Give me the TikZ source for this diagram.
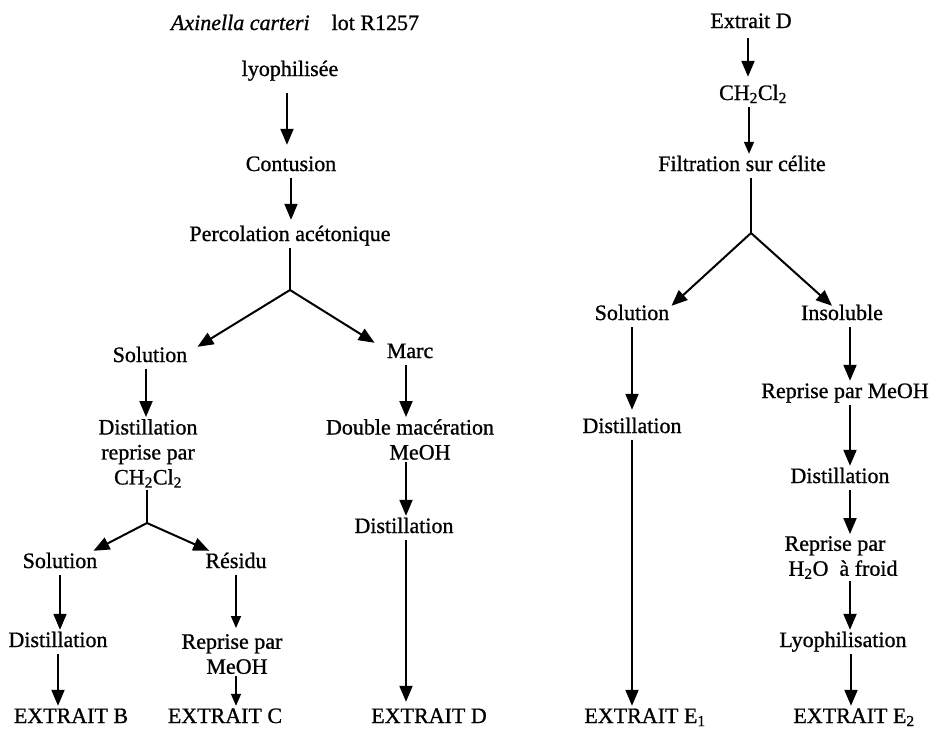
\documentclass[tikz,border=0pt]{standalone}
\usepackage{fontspec}
\setmainfont{Liberation Serif}[FakeBold=0.9]
\usepackage{tikz}
\usetikzlibrary{arrows.meta}
\newcommand{\chcl}{CH\textsubscript{2}Cl\textsubscript{2}}

\begin{document}
\begin{tikzpicture}[x=1pt,y=-1pt,
    lbl/.style={inner sep=2pt,text height=15pt,text depth=5pt,font=\fontsize{22}{25}\selectfont},
    lbls/.style={inner sep=2pt,anchor=north,align=center,font=\fontsize{22}{25}\selectfont},
    flow/.style={line width=2pt,-{Triangle[length=16pt,width=13pt]}},
    flowsmall/.style={line width=1.6pt,-{Triangle[length=12pt,width=10pt]}}]
    \useasboundingbox (0,0) rectangle (931,737);

    % colonne de gauche
    \node[lbl] (titre) at (295,25) {\textit{Axinella carteri}\quad lot R1257};
    \node[lbl] (lyo) at (290,71) {lyophilisée};
    \node[lbl] (cont) at (291,166) {Contusion};
    \node[lbl] (perc) at (290,236) {Percolation acétonique};
    \coordinate (splitA) at (290,290);
    \node[lbl] (solA) at (150,357) {Solution};
    \node[lbl] (marc) at (410,353) {Marc};
    \node[lbls] (distA) at (148,417) {Distillation\\reprise par\\\chcl};
    \coordinate (splitB) at (147,523);
    \node[lbl] (solB) at (60,563) {Solution};
    \node[lbl] (resB) at (236,563) {Résidu};
    \node[lbl] (distB) at (58,642) {Distillation};
    \node[lbls] (repB) at (232,632) {Reprise par\\\hspace*{10pt}MeOH};
    \node[lbl] (extB) at (71,718) {EXTRAIT B};
    \node[lbl] (extC) at (225,718) {EXTRAIT C};
    \node[lbls] (macer) at (410,417) {Double macération\\\hspace*{20pt}MeOH};
    \node[lbl] (distC) at (404,528) {Distillation};
    \node[lbl] (extD) at (429,718) {EXTRAIT D};

    \draw[flow, shorten <=10pt, shorten >=9pt] ([xshift=-3pt]lyo.south) -- ([xshift=-3pt]lyo.south |- cont.north);
    \draw[flow, shorten >=4pt] (cont.south) -- (cont.south |- perc.north);
    \draw[line width=2pt] (perc.south) -- (splitA);
    \draw[flow] (splitA) -- ([xshift=8pt,yshift=-2pt]solA.north east);
    \draw[flow] (splitA) -- ([xshift=-10pt,yshift=-2pt]marc.north west);
    \draw[flow] ([xshift=-4pt]solA.south) -- ([xshift=-4pt]solA.south |- distA.north);
    \draw[line width=2pt] (distA.south -| splitB) -- (splitB);
    \draw[flow] (splitB) -- ([xshift=-6pt]solB.north east);
    \draw[flow] (splitB) -- ([xshift=6pt]resB.north west);
    \draw[flow] (solB.south) -- (solB.south |- distB.north);
    \draw[flow] (distB.south) -- (distB.south |- extB.north);
    \draw[flowsmall, shorten >=4pt] (resB.south) -- (resB.south |- repB.north);
    \draw[flowsmall] (resB.south |- repB.south) -- (resB.south |- extC.north);
    \draw[flow] ([xshift=-4pt]marc.south) -- ([xshift=-4pt]marc.south |- macer.north);
    \draw[flow] ([xshift=-4pt]macer.south) -- ([xshift=-4pt]macer.south |- distC.north);
    \draw[flow, shorten >=4pt] ([xshift=2pt]distC.south) -- ([xshift=2pt]distC.south |- extD.north);

    % colonne de droite
    \node[lbl] (extrD) at (751,23) {Extrait D};
    \node[lbl] (ch) at (753,95) {\chcl};
    \node[lbl] (filt) at (742,166) {Filtration sur célite};
    \coordinate (splitC) at (751,233);
    \node[lbl] (solC) at (632,315) {Solution};
    \node[lbl] (insol) at (842,315) {Insoluble};
    \node[lbl] (distE) at (632,428) {Distillation};
    \node[lbl] (extE1) at (645,718) {EXTRAIT E\textsubscript{1}};
    \node[lbl] (repM) at (845,393) {Reprise par MeOH};
    \node[lbl] (distF) at (840,478) {Distillation};
    \node[lbls] (repH) at (840,534) {Reprise par\hspace*{10pt}\\\hspace*{6pt}H\textsubscript{2}O\ \ à froid};
    \node[lbl] (lyo2) at (843,642) {Lyophilisation};
    \node[lbl] (extE2) at (854,718) {EXTRAIT E\textsubscript{2}};

    \draw[flow, shorten <=3pt, shorten >=6pt] ([xshift=-3pt]extrD.south) -- ([xshift=-3pt]extrD.south |- ch.north);
    \draw[flowsmall] ([xshift=-4pt]ch.south) -- ([xshift=-4pt]ch.south |- filt.north);
    \draw[line width=2pt] (splitC |- filt.south) -- (splitC);
    \draw[flow] (splitC) -- ([yshift=-3pt]solC.north east);
    \draw[flow] (splitC) -- ([xshift=-10pt,yshift=-3pt]insol.north);
    \draw[flow, shorten >=6pt] (solC.south) -- (solC.south |- distE.north);
    \draw[flow] (distE.south) -- (distE.south |- extE1.north);
    \draw[flow] ([xshift=8pt]insol.south) -- ([xshift=8pt]insol.south |- repM.north);
    \draw[flow] ([xshift=5pt]repM.south) -- ([xshift=5pt]repM.south |- distF.north);
    \draw[flow] ([xshift=10pt]distF.south) -- ([xshift=10pt]distF.south |- repH.north);
    \draw[flow] ([xshift=10pt]repH.south) -- ([xshift=10pt]repH.south |- lyo2.north);
    \draw[flow] ([xshift=8pt]lyo2.south) -- ([xshift=8pt]lyo2.south |- extE2.north);
\end{tikzpicture}
\end{document}
